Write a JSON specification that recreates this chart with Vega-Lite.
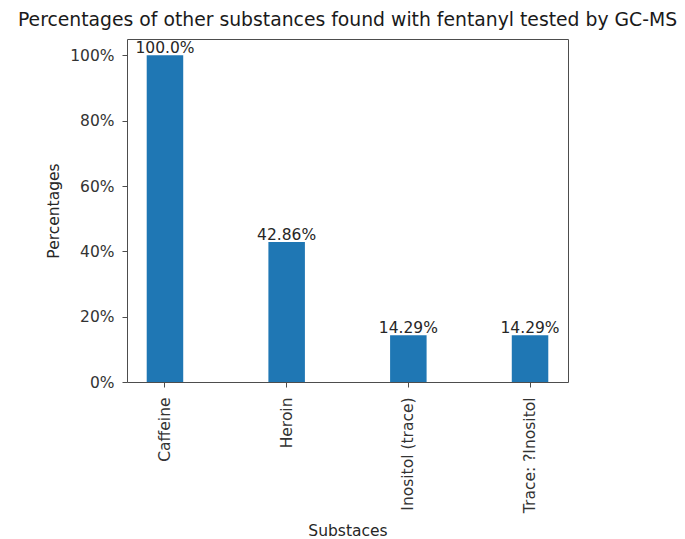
{
  "$schema": "https://vega.github.io/schema/vega-lite/v6.json",
  "autosize": "none",
  "padding": {"left": 127, "top": 39, "right": 117, "bottom": 157},
  "width": 441,
  "height": 343,
  "background": "white",
  "title": {
    "text": "Percentages of other substances found with fentanyl tested by GC-MS",
    "font": "DejaVu Sans",
    "fontSize": 18.8,
    "fontWeight": "normal",
    "color": "#1a1a1a",
    "anchor": "middle",
    "offset": 9
  },
  "config": {
    "view": {"stroke": "#4d4d4d", "strokeWidth": 1},
    "axis": {
      "labelFont": "DejaVu Sans",
      "titleFont": "DejaVu Sans",
      "labelFontSize": 15.5,
      "titleFontSize": 15.5,
      "titleFontWeight": "normal",
      "labelColor": "#333333",
      "titleColor": "#262626",
      "domain": false,
      "tickColor": "#4d4d4d",
      "tickSize": 5,
      "grid": false
    }
  },
  "data": {
    "values": [
      {"substance": "Caffeine", "pct": 1.0, "label": "100.0%"},
      {"substance": "Heroin", "pct": 0.4286, "label": "42.86%"},
      {"substance": "Inositol (trace)", "pct": 0.1429, "label": "14.29%"},
      {"substance": "Trace: ?Inositol", "pct": 0.1429, "label": "14.29%"}
    ]
  },
  "encoding": {
    "x": {
      "field": "substance",
      "type": "nominal",
      "sort": null,
      "title": "Substaces",
      "scale": {"paddingInner": 0.7, "paddingOuter": 0.162},
      "axis": {"labelAngle": -90, "labelPadding": 10, "titlePadding": 11}
    },
    "y": {
      "field": "pct",
      "type": "quantitative",
      "title": "Percentages",
      "scale": {"domain": [0, 1.05], "nice": false},
      "axis": {"values": [0, 0.2, 0.4, 0.6, 0.8, 1.0], "format": ".0%", "labelPadding": 8, "titlePadding": 8}
    }
  },
  "layer": [
    {"mark": {"type": "bar", "color": "#1f77b4"}},
    {
      "mark": {
        "type": "text",
        "baseline": "bottom",
        "align": "center",
        "dy": 1,
        "font": "DejaVu Sans",
        "fontSize": 15.5,
        "color": "#262626"
      },
      "encoding": {"text": {"field": "label"}}
    }
  ]
}
